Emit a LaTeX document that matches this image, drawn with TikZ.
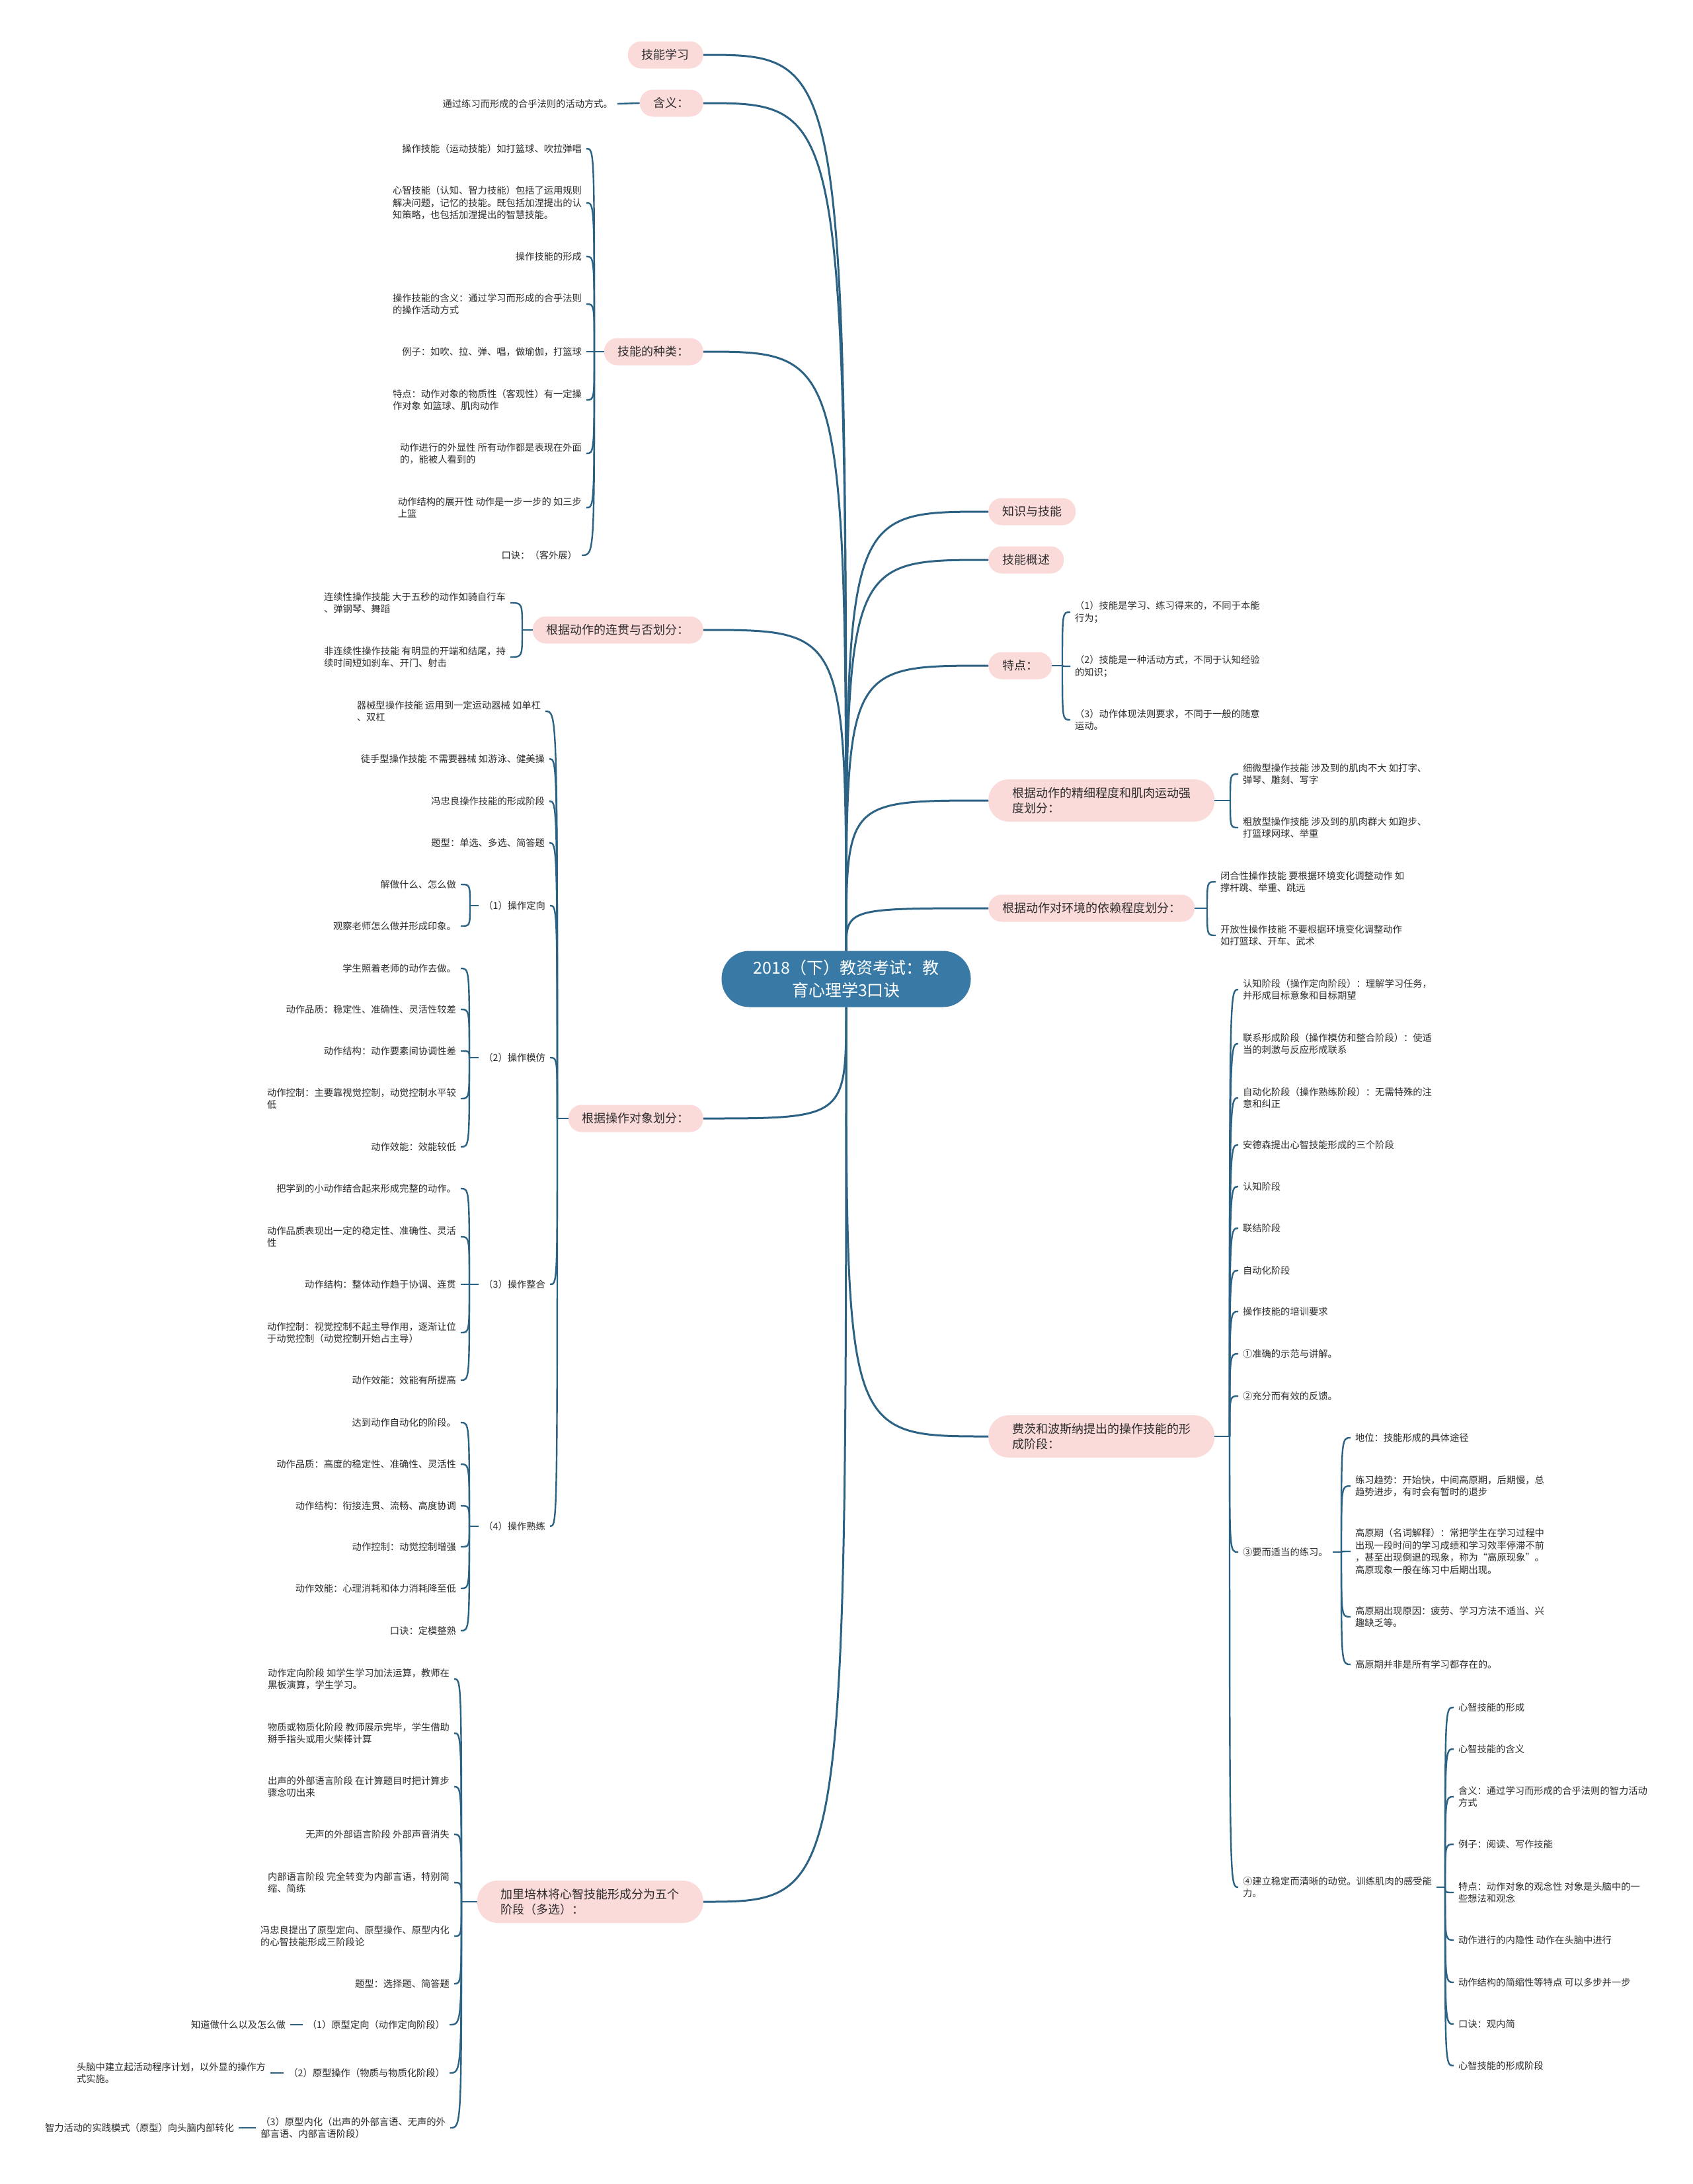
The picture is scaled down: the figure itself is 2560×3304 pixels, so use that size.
\documentclass[tikz,border=0pt]{standalone}
\usepackage{fontspec}
\setmainfont{Noto Sans CJK SC}
\usepackage{tikz}

\definecolor{linecol}{RGB}{44,98,131}
\definecolor{pinkbox}{RGB}{251,218,218}
\definecolor{rootcol}{RGB}{56,122,165}
\definecolor{textcol}{RGB}{45,45,45}
\newcommand{\leaffont}{\fontsize{14.3}{18.5}\selectfont}
\newcommand{\topicfont}{\fontsize{18}{23}\selectfont}
\newcommand{\rootfont}{\fontsize{25}{34}\selectfont}

\begin{document}
\begin{tikzpicture}[x=1pt,y=-1pt,
        centre/.style={rectangle,rounded corners=42pt,fill=rootcol,text=white,minimum width=377pt,minimum height=85pt,align=center,font=\rootfont},
        topic/.style={rectangle,rounded corners=20pt,fill=pinkbox,text=textcol,minimum height=41pt,inner xsep=21pt,font=\topicfont},
        topictwo/.style={topic,rounded corners=31pt,minimum height=64pt,inner xsep=36pt,align=left},
        leafl/.style={anchor=east,align=left,inner sep=1pt,outer sep=6pt,text=textcol,font=\leaffont},
        leafr/.style={leafl,anchor=west},
        limb/.style={draw=linecol,line width=3pt},
        stem/.style={draw=linecol,line width=2.4pt},
        twig/.style={to path={.. controls (\tikztostart |- \tikztotarget) .. (\tikztotarget)}}]
        \useasboundingbox (0,0) rectangle (2560,3304);
        \fill[white] (0,0) rectangle (2560,3304);

        \node[centre] (root) at (1280,1481) {2018（下）教资考试：教\\育心理学3口诀};

        % left side
        \node[topic,anchor=east] (kn) at (1064,83) {技能学习};
        \node[topic,anchor=east] (hy) at (1064,156) {含义：};
        \node[topic,anchor=east] (zl) at (1064,532) {技能的种类：};
        \node[topic,anchor=east] (lg) at (1064,953) {根据动作的连贯与否划分：};
        \node[topic,anchor=east] (dx) at (1064,1692) {根据操作对象划分：};
        \node[topictwo,anchor=east] (jl) at (1064,2877) {加里培林将心智技能形成分为五个\\阶段（多选）：};

        \node[leafl] (hy1) at (934,157) {通过练习而形成的合乎法则的活动方式。};

        \coordinate (zlJ) at (899,532);
        \node[leafl] (zl1) at (887,225) {操作技能（运动技能）如打篮球、吹拉弹唱};
        \node[leafl] (zl2) at (887,307) {心智技能（认知、智力技能）包括了运用规则\\解决问题，记忆的技能。既包括加涅提出的认\\知策略，也包括加涅提出的智慧技能。};
        \node[leafl] (zl3) at (887,388) {操作技能的形成};
        \node[leafl] (zl4) at (887,460) {操作技能的含义：通过学习而形成的合乎法则\\的操作活动方式};
        \node[leafl] (zl5) at (887,532) {例子：如吹、拉、弹、唱，做瑜伽，打篮球};
        \node[leafl] (zl6) at (887,605) {特点：动作对象的物质性（客观性）有一定操\\作对象 如篮球、肌肉动作};
        \node[leafl] (zl7) at (887,686) {动作进行的外显性 所有动作都是表现在外面\\的，能被人看到的};
        \node[leafl] (zl8) at (887,768) {动作结构的展开性 动作是一步一步的 如三步\\上篮};
        \node[leafl] (zl9) at (880,840) {口诀：（客外展）};

        \coordinate (lgJ) at (790,953);
        \node[leafl] (lg1) at (772,912) {连续性操作技能 大于五秒的动作如骑自行车\\、弹钢琴、舞蹈};
        \node[leafl] (lg2) at (772,994) {非连续性操作技能 有明显的开端和结尾，持\\续时间短如刹车、开门、射击};

        \coordinate (dxJ) at (843,1692);
        \node[leafl] (dx1) at (825,1076) {器械型操作技能 运用到一定运动器械 如单杠\\、双杠};
        \node[leafl] (dx2) at (831,1148) {徒手型操作技能 不需要器械 如游泳、健美操};
        \node[leafl] (dx3) at (831,1212) {冯忠良操作技能的形成阶段};
        \node[leafl] (dx4) at (831,1275) {题型：单选、多选、简答题};
        \node[leafl] (dx5) at (832,1370) {（1）操作定向};
        \node[leafl] (dx6) at (832,1600) {（2）操作模仿};
        \node[leafl] (dx7) at (832,1943) {（3）操作整合};
        \node[leafl] (dx8) at (832,2309) {（4）操作熟练};

        \coordinate (dx5J) at (711,1370);
        \node[leafl] (dx5a) at (697,1338) {解做什么、怎么做};
        \node[leafl] (dx5b) at (697,1401) {观察老师怎么做并形成印象。};

        \coordinate (dx6J) at (710,1600);
        \node[leafl] (dx6a) at (697,1465) {学生照着老师的动作去做。};
        \node[leafl] (dx6b) at (697,1527) {动作品质：稳定性、准确性、灵活性较差};
        \node[leafl] (dx6c) at (697,1590) {动作结构：动作要素间协调性差};
        \node[leafl] (dx6d) at (697,1662) {动作控制：主要靠视觉控制，动觉控制水平较\\低};
        \node[leafl] (dx6e) at (697,1735) {动作效能：效能较低};

        \coordinate (dx7J) at (710,1943);
        \node[leafl] (dx7a) at (697,1798) {把学到的小动作结合起来形成完整的动作。};
        \node[leafl] (dx7b) at (697,1871) {动作品质表现出一定的稳定性、准确性、灵活\\性};
        \node[leafl] (dx7c) at (697,1943) {动作结构：整体动作趋于协调、连贯};
        \node[leafl] (dx7d) at (697,2016) {动作控制：视觉控制不起主导作用，逐渐让位\\于动觉控制（动觉控制开始占主导）};
        \node[leafl] (dx7e) at (697,2088) {动作效能：效能有所提高};

        \coordinate (dx8J) at (710,2309);
        \node[leafl] (dx8a) at (697,2152) {达到动作自动化的阶段。};
        \node[leafl] (dx8b) at (697,2215) {动作品质：高度的稳定性、准确性、灵活性};
        \node[leafl] (dx8c) at (697,2278) {动作结构：衔接连贯、流畅、高度协调};
        \node[leafl] (dx8d) at (697,2340) {动作控制：动觉控制增强};
        \node[leafl] (dx8e) at (697,2403) {动作效能：心理消耗和体力消耗降至低};
        \node[leafl] (dx8f) at (697,2467) {口诀：定模整熟};

        \coordinate (jlJ) at (698,2877);
        \node[leafl] (jl1) at (687,2540) {动作定向阶段 如学生学习加法运算，教师在\\黑板演算，学生学习。};
        \node[leafl] (jl2) at (687,2622) {物质或物质化阶段 教师展示完毕，学生借助\\掰手指头或用火柴棒计算};
        \node[leafl] (jl3) at (687,2703) {出声的外部语言阶段 在计算题目时把计算步\\骤念叨出来};
        \node[leafl] (jl4) at (687,2775) {无声的外部语言阶段 外部声音消失};
        \node[leafl] (jl5) at (687,2848) {内部语言阶段 完全转变为内部言语，特别简\\缩、简练};
        \node[leafl] (jl6) at (687,2929) {冯忠良提出了原型定向、原型操作、原型内化\\的心智技能形成三阶段论};
        \node[leafl] (jl7) at (687,3001) {题型：选择题、简答题};
        \node[leafl] (jl8) at (680,3063) {（1）原型定向（动作定向阶段）};
        \node[leafl] (jl9) at (680,3136) {（2）原型操作（物质与物质化阶段）};
        \node[leafl] (jl10) at (681,3219) {（3）原型内化（出声的外部言语、无声的外\\部言语、内部言语阶段）};
        \node[leafl] (jl8a) at (439,3063) {知道做什么以及怎么做};
        \node[leafl] (jl9a) at (409,3136) {头脑中建立起活动程序计划，以外显的操作方\\式实施。};
        \node[leafl] (jl10a) at (361,3219) {智力活动的实践模式（原型）向头脑内部转化};

        % right side
        \node[topic,anchor=west] (zs) at (1495,774) {知识与技能};
        \node[topic,anchor=west] (gs) at (1495,847) {技能概述};
        \node[topic,anchor=west] (td) at (1495,1007) {特点：};
        \node[topictwo,anchor=west] (jx) at (1495,1211) {根据动作的精细程度和肌肉运动强\\度划分：};
        \node[topic,anchor=west] (hj) at (1495,1374) {根据动作对环境的依赖程度划分：};
        \node[topictwo,anchor=west] (fc) at (1495,2173) {费茨和波斯纳提出的操作技能的形\\成阶段：};

        \coordinate (tdJ) at (1607,1007);
        \node[leafr] (td1) at (1619,926) {（1）技能是学习、练习得来的，不同于本能\\行为；};
        \node[leafr] (td2) at (1619,1008) {（2）技能是一种活动方式，不同于认知经验\\的知识；};
        \node[leafr] (td3) at (1619,1089) {（3）动作体现法则要求，不同于一般的随意\\运动。};

        \coordinate (jxJ) at (1861,1211);
        \node[leafr] (jx1) at (1873,1171) {细微型操作技能 涉及到的肌肉不大 如打字、\\弹琴、雕刻、写字};
        \node[leafr] (jx2) at (1873,1252) {粗放型操作技能 涉及到的肌肉群大 如跑步、\\打篮球网球、举重};

        \coordinate (hjJ) at (1826,1374);
        \node[leafr] (hj1) at (1839,1334) {闭合性操作技能 要根据环境变化调整动作 如\\撑杆跳、举重、跳远};
        \node[leafr] (hj2) at (1839,1415) {开放性操作技能 不要根据环境变化调整动作\\如打篮球、开车、武术};

        \coordinate (fcJ) at (1860,2173);
        \node[leafr] (fc1) at (1873,1497) {认知阶段（操作定向阶段）：理解学习任务，\\并形成目标意象和目标期望};
        \node[leafr] (fc2) at (1873,1579) {联系形成阶段（操作模仿和整合阶段）：使适\\当的刺激与反应形成联系};
        \node[leafr] (fc3) at (1873,1661) {自动化阶段（操作熟练阶段）：无需特殊的注\\意和纠正};
        \node[leafr] (fc4) at (1873,1732) {安德森提出心智技能形成的三个阶段};
        \node[leafr] (fc5) at (1873,1795) {认知阶段};
        \node[leafr] (fc6) at (1873,1858) {联结阶段};
        \node[leafr] (fc7) at (1873,1922) {自动化阶段};
        \node[leafr] (fc8) at (1873,1984) {操作技能的培训要求};
        \node[leafr] (fc9) at (1873,2048) {①准确的示范与讲解。};
        \node[leafr] (fc10) at (1873,2112) {②充分而有效的反馈。};
        \node[leafr] (fc11) at (1873,2348) {③要而适当的练习。};
        \node[leafr] (fc12) at (1873,2855) {④建立稳定而清晰的动觉。训练肌肉的感受能\\力。};

        \coordinate (fc11J) at (2029,2348);
        \node[leafr] (fc11a) at (2043,2175) {地位：技能形成的具体途径};
        \node[leafr] (fc11b) at (2043,2248) {练习趋势：开始快，中间高原期，后期慢，总\\趋势进步，有时会有暂时的退步};
        \node[leafr] (fc11c) at (2043,2347) {高原期（名词解释）：常把学生在学习过程中\\出现一段时间的学习成绩和学习效率停滞不前\\，甚至出现倒退的现象，称为“高原现象”。\\高原现象一般在练习中后期出现。};
        \node[leafr] (fc11d) at (2043,2446) {高原期出现原因：疲劳、学习方法不适当、兴\\趣缺乏等。};
        \node[leafr] (fc11e) at (2043,2518) {高原期并非是所有学习都存在的。};

        \coordinate (fc12J) at (2186,2855);
        \node[leafr] (fc12a) at (2199,2583) {心智技能的形成};
        \node[leafr] (fc12b) at (2199,2646) {心智技能的含义};
        \node[leafr] (fc12c) at (2199,2718) {含义：通过学习而形成的合乎法则的智力活动\\方式};
        \node[leafr] (fc12d) at (2199,2790) {例子：阅读、写作技能};
        \node[leafr] (fc12e) at (2199,2863) {特点：动作对象的观念性 对象是头脑中的一\\些想法和观念};
        \node[leafr] (fc12f) at (2199,2935) {动作进行的内隐性 动作在头脑中进行};
        \node[leafr] (fc12g) at (2199,2999) {动作结构的简缩性等特点 可以多步并一步};
        \node[leafr] (fc12h) at (2199,3062) {口诀：观内简};
        \node[leafr] (fc12i) at (2199,3125) {心智技能的形成阶段};

        \path[limb] (root) edge [twig] (kn.east)
                    (root) edge [twig] (hy.east)
                    (root) edge [twig] (zl.east)
                    (root) edge [twig] (lg.east)
                    (root) edge [twig] (dx.east)
                    (root) edge [twig] (jl.east)
                    (root) edge [twig] (zs.west)
                    (root) edge [twig] (gs.west)
                    (root) edge [twig] (td.west)
                    (root) edge [twig] (jx.west)
                    (root) edge [twig] (hj.west)
                    (root) edge [twig] (fc.west);

        \path[stem] (hy.west) edge [] (hy1.east)
                    (zl.west) edge [] (zlJ)
                    (lg.west) edge [] (lgJ)
                    (dx.west) edge [] (dxJ)
                    (jl.west) edge [] (jlJ)
                    (dx5.west) edge [] (dx5J)
                    (dx6.west) edge [] (dx6J)
                    (dx7.west) edge [] (dx7J)
                    (dx8.west) edge [] (dx8J)
                    (jl8.west) edge [] (jl8a.east)
                    (jl9.west) edge [] (jl9a.east)
                    (jl10.west) edge [] (jl10a.east)
                    (td.east) edge [] (tdJ)
                    (jx.east) edge [] (jxJ)
                    (hj.east) edge [] (hjJ)
                    (fc.east) edge [] (fcJ)
                    (fc11.east) edge [] (fc11J)
                    (fc12.east) edge [] (fc12J);

        \path[stem] (zlJ) edge [twig] (zl1.east) edge [twig] (zl2.east) edge [twig] (zl3.east)
                          edge [twig] (zl4.east) edge [twig] (zl5.east) edge [twig] (zl6.east)
                          edge [twig] (zl7.east) edge [twig] (zl8.east) edge [twig] (zl9.east)
                    (lgJ) edge [twig] (lg1.east) edge [twig] (lg2.east)
                    (dxJ) edge [twig] (dx1.east) edge [twig] (dx2.east) edge [twig] (dx3.east)
                          edge [twig] (dx4.east) edge [twig] (dx5.east) edge [twig] (dx6.east)
                          edge [twig] (dx7.east) edge [twig] (dx8.east)
                    (dx5J) edge [twig] (dx5a.east) edge [twig] (dx5b.east)
                    (dx6J) edge [twig] (dx6a.east) edge [twig] (dx6b.east) edge [twig] (dx6c.east)
                           edge [twig] (dx6d.east) edge [twig] (dx6e.east)
                    (dx7J) edge [twig] (dx7a.east) edge [twig] (dx7b.east) edge [twig] (dx7c.east)
                           edge [twig] (dx7d.east) edge [twig] (dx7e.east)
                    (dx8J) edge [twig] (dx8a.east) edge [twig] (dx8b.east) edge [twig] (dx8c.east)
                           edge [twig] (dx8d.east) edge [twig] (dx8e.east) edge [twig] (dx8f.east)
                    (jlJ) edge [twig] (jl1.east) edge [twig] (jl2.east) edge [twig] (jl3.east)
                          edge [twig] (jl4.east) edge [twig] (jl5.east) edge [twig] (jl6.east)
                          edge [twig] (jl7.east) edge [twig] (jl8.east) edge [twig] (jl9.east)
                          edge [twig] (jl10.east)
                    (tdJ) edge [twig] (td1.west) edge [twig] (td2.west) edge [twig] (td3.west)
                    (jxJ) edge [twig] (jx1.west) edge [twig] (jx2.west)
                    (hjJ) edge [twig] (hj1.west) edge [twig] (hj2.west)
                    (fcJ) edge [twig] (fc1.west) edge [twig] (fc2.west) edge [twig] (fc3.west)
                          edge [twig] (fc4.west) edge [twig] (fc5.west) edge [twig] (fc6.west)
                          edge [twig] (fc7.west) edge [twig] (fc8.west) edge [twig] (fc9.west)
                          edge [twig] (fc10.west) edge [twig] (fc11.west) edge [twig] (fc12.west)
                    (fc11J) edge [twig] (fc11a.west) edge [twig] (fc11b.west) edge [twig] (fc11c.west)
                            edge [twig] (fc11d.west) edge [twig] (fc11e.west)
                    (fc12J) edge [twig] (fc12a.west) edge [twig] (fc12b.west) edge [twig] (fc12c.west)
                            edge [twig] (fc12d.west) edge [twig] (fc12e.west) edge [twig] (fc12f.west)
                            edge [twig] (fc12g.west) edge [twig] (fc12h.west) edge [twig] (fc12i.west);
    \end{tikzpicture}
\end{document}
